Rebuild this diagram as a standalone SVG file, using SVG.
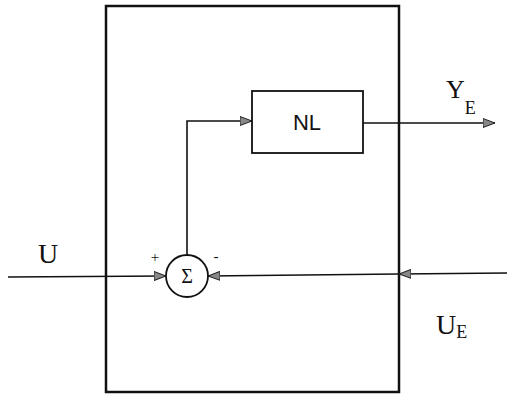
<svg xmlns="http://www.w3.org/2000/svg" width="507" height="395" viewBox="0 0 507 395">
<defs>
<marker id="arr" viewBox="0 0 12 10" refX="12" refY="5" markerWidth="12" markerHeight="10" markerUnits="userSpaceOnUse" orient="auto">
<path d="M0,0.5 L12,5 L0,9.5 Z" fill="#888" stroke="#222" stroke-width="1"/>
</marker>
<style>
.ln{fill:none;stroke:#111;stroke-width:1.6}
.bx{fill:none;stroke:#111;stroke-width:2.5}
.nb{fill:#fff;stroke:#111;stroke-width:1.8}
.serif{font-family:"Liberation Serif","Times New Roman",serif;fill:#111}
.sans{font-family:"Liberation Sans",Arial,sans-serif;fill:#111}
</style>
</defs>
<rect width="507" height="395" fill="#fff"/>
<g id="system">
<rect class="bx" x="106" y="6" width="293" height="386"/>
</g>
<g id="connectors">
<line class="ln" x1="8" y1="277" x2="166" y2="276" marker-end="url(#arr)"/>
<line class="ln" x1="507" y1="273" x2="399" y2="274" marker-end="url(#arr)"/>
<line class="ln" x1="399" y1="274" x2="208" y2="276" marker-end="url(#arr)"/>
<polyline class="ln" points="187,255 187,121 252,121" marker-end="url(#arr)"/>
<line class="ln" x1="363" y1="123" x2="495" y2="123" marker-end="url(#arr)"/>
</g>
<g id="sum">
<circle class="nb" cx="187" cy="276" r="21"/>
<text class="serif" x="187" y="283" font-size="20" text-anchor="middle">Σ</text>
<text class="serif" x="155" y="262" font-size="15" text-anchor="middle">+</text>
<text class="serif" x="216" y="261" font-size="15" text-anchor="middle">-</text>
</g>
<g id="nl">
<rect class="nb" x="252" y="91" width="111" height="62"/>
<text class="sans" x="307" y="130" font-size="22" text-anchor="middle">NL</text>
</g>
<g id="labels">
<text class="serif" x="38" y="263" font-size="28">U</text>
<text class="serif" x="446" y="98" font-size="26">Y<tspan font-size="18" dy="16">E</tspan></text>
<text class="serif" x="436" y="334" font-size="28">U<tspan font-size="18" dy="4">E</tspan></text>
</g>
</svg>
